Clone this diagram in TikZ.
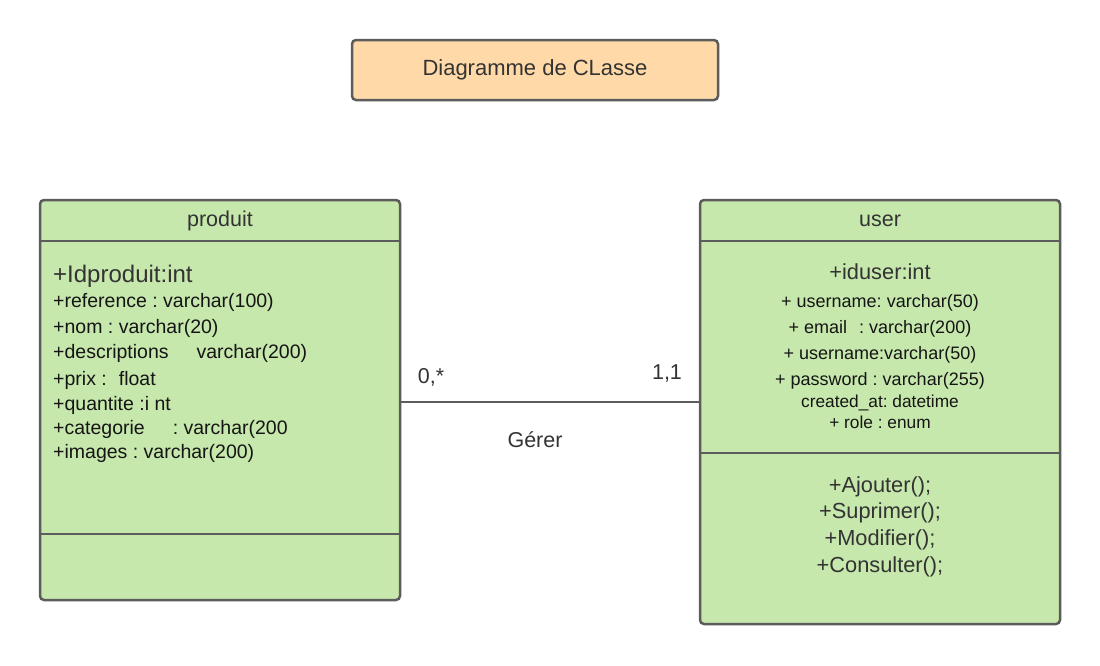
\documentclass[tikz,border=0pt]{standalone}
\usepackage{fontspec}
\setmainfont{Liberation Sans}
\usetikzlibrary{positioning}
\definecolor{vert}{HTML}{C7E8AC}
\definecolor{peche}{HTML}{FFDAA8}
\definecolor{trait}{HTML}{5C5C5C}
\definecolor{gris}{HTML}{333333}
\definecolor{noir}{HTML}{151515}
\newcommand{\taille}[1]{\fontsize{#1}{#1}\selectfont}
\frenchspacing
\begin{document}
\begin{tikzpicture}[x=1pt, y=-1pt,
	boite/.style = {draw=trait, line width=2.5pt, rounded corners=4pt, inner sep=0pt},
	classe/.style = {boite, fill=vert, minimum width=360pt},
	titre/.style = {boite, fill=peche, minimum width=366pt, minimum height=60pt, text=gris, font=\taille{22}},
	ligne/.style = {draw=trait, line width=2.5pt},
	entete/.style = {inner sep=0pt, anchor=base, text=gris, font=\taille{21.5}},
	cle/.style = {inner sep=0pt, text=gris},
	attr/.style = {inner sep=0pt, text=noir},
	lien/.style = {inner sep=0pt, anchor=base, text=gris, font=\taille{21.5}}]

	\useasboundingbox (0,0) rectangle (1100,665);

	\node[titre] (titre) at (535,70) {Diagramme de CLasse};

	% classes
	\node[classe, minimum height=400pt] (produit) at (220,400) {};
	\node[classe, minimum height=424pt] (user) at (880,412) {};

	\draw[ligne] ([yshift=-42pt]produit.north west) -- ([yshift=-42pt]produit.north east);
	\draw[ligne] ([yshift=-335pt]produit.north west) -- ([yshift=-335pt]produit.north east);
	\draw[ligne] ([yshift=-42pt]user.north west) -- ([yshift=-42pt]user.north east);
	\draw[ligne] ([yshift=-254pt]user.north west) -- ([yshift=-254pt]user.north east);

	\node[entete] (nomproduit) at (220,226) {produit};
	\node[entete] (nomuser) at (880,226) {user};

	% attributs produit
	\node[cle, anchor=base west, font=\taille{24}] (idproduit) at (53,282) {+Idproduit:int};
	\node[attr, anchor=base west, font=\taille{19.5}] (reference) at (53,307) {+reference : varchar(100)};
	\node[attr, anchor=base west, font=\taille{19.5}] (nom) at (53,333) {+nom : varchar(20)};
	\node[attr, anchor=base west, font=\taille{19.5}] (descriptions) at (53,358) {+descriptions\hspace{28pt}varchar(200)};
	\node[attr, anchor=base west, font=\taille{19.5}] (prix) at (53,385) {+prix :\hspace{12pt}float};
	\node[attr, anchor=base west, font=\taille{19.5}] (quantite) at (53,410) {+quantite :i nt};
	\node[attr, anchor=base west, font=\taille{19.5}] (categorie) at (53,434) {+categorie\hspace{28pt}: varchar(200};
	\node[attr, anchor=base west, font=\taille{19.5}] (images) at (53,458) {+images : varchar(200)};

	% attributs user
	\node[cle, anchor=base, font=\taille{21.8}] (iduser) at (880,279) {+iduser:int};
	\node[attr, anchor=base, font=\taille{18}] (username) at (880,307) {+ username: varchar(50)};
	\node[attr, anchor=base, font=\taille{18}] (email) at (880,333) {+ email\hspace{12pt}: varchar(200)};
	\node[attr, anchor=base, font=\taille{18}] (username2) at (880,359) {+ username:varchar(50)};
	\node[attr, anchor=base, font=\taille{18}] (password) at (880,385) {+ password : varchar(255)};
	\node[attr, anchor=base, font=\taille{17.3}] (created) at (880,407) {created\_at: datetime};
	\node[attr, anchor=base, font=\taille{17.3}] (role) at (880,428) {+ role : enum};

	% methodes user
	\node[cle, anchor=base, font=\taille{21.8}] (ajouter) at (880,492) {+Ajouter();};
	\node[cle, anchor=base, font=\taille{21.8}] (suprimer) at (880,518) {+Suprimer();};
	\node[cle, anchor=base, font=\taille{21.8}] (modifier) at (880,545) {+Modifier();};
	\node[cle, anchor=base, font=\taille{21.8}] (consulter) at (880,572) {+Consulter();};

	% association
	\draw[ligne] ([yshift=-2pt]produit.east) -- ([yshift=-2pt]produit.east -| user.west);
	\node[lien] (card1) at (431,383) {0,*};
	\node[lien] (card2) at (667,379) {1,1};
	\node[lien] (gerer) at (535,447) {Gérer};
\end{tikzpicture}
\end{document}
